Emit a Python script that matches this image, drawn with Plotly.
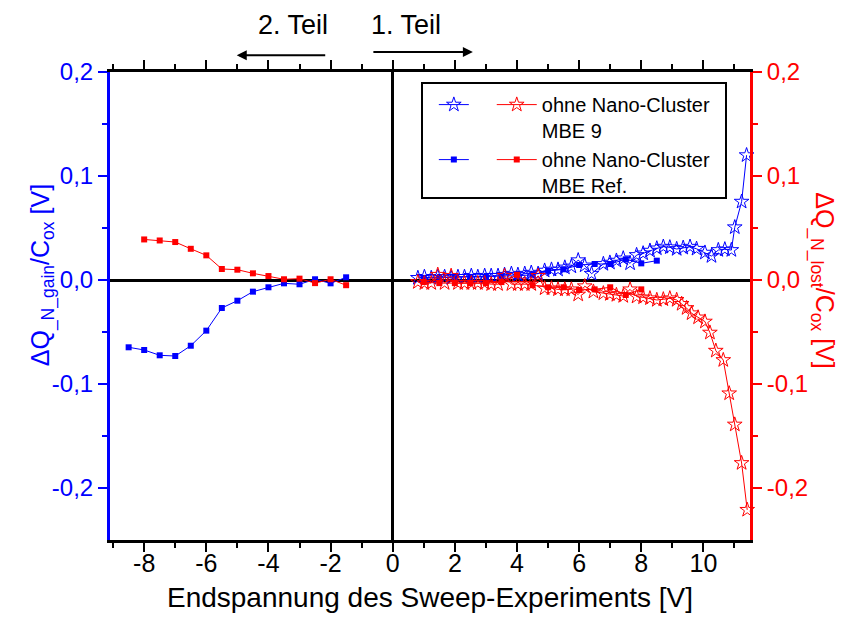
import plotly.graph_objects as go

# MBE 9 (stars) - gain (blue, left axis) and lost (red, right axis)
x_mbe9_gain = [0.81, 1.02, 1.24, 1.45, 1.67, 1.88, 2.10, 2.31, 2.53, 2.74, 2.96, 3.17, 3.39, 3.60,
               3.82, 4.03, 4.25, 4.46, 4.68, 4.89, 5.11, 5.32, 5.54, 5.75, 5.97, 6.18, 6.40, 6.78,
               6.99, 7.20, 7.42, 7.64, 7.85, 8.06, 8.28, 8.50, 8.71, 8.92, 9.14, 9.35, 9.57, 9.78,
               10.05, 10.26, 10.48, 10.69, 10.90, 11.01, 11.23, 11.39]
y_mbe9_gain = [0.002, 0.003, 0.002, 0.003, 0.003, 0.002, 0.003, 0.003, 0.004, 0.003, 0.004, 0.004,
               0.004, 0.005, 0.006, 0.005, 0.006, 0.007, 0.006, 0.009, 0.010, 0.010, 0.012, 0.013,
               0.019, 0.014, 0.006, 0.0154, 0.0167, 0.0186, 0.0208, 0.016, 0.024, 0.0256, 0.0282,
               0.0304, 0.032, 0.0314, 0.0298, 0.031, 0.032, 0.030, 0.0263, 0.023, 0.0288, 0.0295,
               0.0288, 0.0507, 0.0753, 0.120]

x_mbe9_lost = [0.81, 1.02, 1.24, 1.45, 1.67, 1.88, 2.10, 2.31, 2.53, 2.74, 2.96, 3.17, 3.39, 3.60,
               3.82, 4.03, 4.25, 4.46, 4.68, 4.89, 5.11, 5.32, 5.54, 5.75, 5.97, 6.18, 6.46, 6.78,
               6.99, 7.20, 7.42, 7.64, 7.85, 8.06, 8.28, 8.50, 8.71, 8.92, 9.14, 9.30, 9.46, 9.62,
               9.83, 10.05, 10.21, 10.40, 10.64, 10.83, 11.01, 11.23, 11.41]
y_mbe9_lost = [-0.002, -0.003, -0.003, 0.005, -0.003, 0.004, -0.003, -0.003, -0.003, -0.003,
               -0.003, -0.004, -0.004, 0.004, -0.004, -0.004, -0.004, -0.004, 0.004, -0.008,
               -0.008, -0.009, -0.009, -0.009, -0.014, -0.006, -0.0112, -0.0128, -0.0135, -0.0144,
               -0.0154, -0.009, -0.016, -0.0167, -0.0176, -0.0192, -0.0186, -0.0176, -0.0192,
               -0.023, -0.027, -0.032, -0.036, -0.040, -0.0506, -0.068, -0.077, -0.109, -0.139,
               -0.176, -0.221]

# MBE Ref. (squares) - 2. Teil (negative) and 1. Teil (positive)
x_ref_gain_neg = [-8.5, -8.0, -7.5, -7.0, -6.5, -6.0, -5.5, -5.0, -4.5, -4.0, -3.5, -3.0, -2.5, -2.0, -1.5]
y_ref_gain_neg = [-0.0647, -0.0673, -0.0724, -0.0731, -0.0632, -0.0487, -0.0269, -0.0199, -0.0112,
                  -0.007, -0.0032, -0.0041, 0.0007, -0.0032, 0.0026]
x_ref_lost_neg = [-8.0, -7.5, -7.0, -6.5, -6.0, -5.5, -5.0, -4.5, -4.0, -3.5, -3.0, -2.5, -2.0, -1.5]
y_ref_lost_neg = [0.039, 0.038, 0.0365, 0.030, 0.0237, 0.0106, 0.0099, 0.0064, 0.0038, 0.0007,
                  0.0013, -0.003, 0.0007, -0.005]

x_ref_gain_pos = [1.0, 1.5, 2.0, 2.5, 3.0, 3.5, 4.0, 4.5, 5.0, 5.5, 6.0, 6.5, 7.0, 7.5, 8.0, 8.5]
y_ref_gain_pos = [0.002, 0.002, 0.003, 0.003, 0.003, 0.004, 0.004, 0.005, 0.0087, 0.0103, 0.0144,
                  0.0154, 0.0154, 0.0199, 0.016, 0.0186]
x_ref_lost_pos = [1.0, 1.5, 2.0, 2.5, 3.0, 3.5, 4.0, 4.5, 5.0, 5.5, 6.0, 6.5, 7.0, 7.5, 8.0]
y_ref_lost_pos = [-0.002, -0.003, -0.003, -0.003, -0.003, -0.002, 0.005, -0.005, -0.007, -0.007,
                  -0.0096, -0.009, -0.007, -0.0144, -0.009]

x_ticks = [-8, -6, -4, -2, 0, 2, 4, 6, 8, 10]
x_ticktext = ["-8", "-6", "-4", "-2", "0", "2", "4", "6", "8", "10"]
y_ticks = [0.2, 0.1, 0.0, -0.1, -0.2]
y_ticktext = ["0,2", "0,1", "0,0", "-0,1", "-0,2"]

BLUE = "#0000FF"
RED = "#FF0000"
FONT = "Liberation Sans, Arial, sans-serif"

fig = go.Figure()

star = dict(symbol="star-open", size=11, line=dict(width=1))
square = dict(symbol="square", size=6)

# blue traces go into legend 1 (symbol only), red ones into legend 2 (with text)
fig.add_trace(go.Scatter(x=x_mbe9_gain, y=y_mbe9_gain, mode="lines+markers", name="\u00a0<br>\u00a0",
                         line=dict(color=BLUE, width=1), marker=dict(color=BLUE, **star),
                         legend="legend", cliponaxis=False))
fig.add_trace(go.Scatter(x=x_ref_gain_neg, y=y_ref_gain_neg, mode="lines+markers", name="\u00a0<br>\u00a0",
                         line=dict(color=BLUE, width=1), marker=dict(color=BLUE, **square),
                         legend="legend", legendgroup="refg"))
fig.add_trace(go.Scatter(x=x_ref_gain_pos, y=y_ref_gain_pos, mode="lines+markers",
                         line=dict(color=BLUE, width=1), marker=dict(color=BLUE, **square),
                         showlegend=False, legendgroup="refg"))

fig.add_trace(go.Scatter(x=x_mbe9_lost, y=y_mbe9_lost, mode="lines+markers", yaxis="y2",
                         name="ohne Nano-Cluster<br>MBE 9",
                         line=dict(color=RED, width=1), marker=dict(color=RED, **star),
                         legend="legend2", cliponaxis=False))
fig.add_trace(go.Scatter(x=x_ref_lost_neg, y=y_ref_lost_neg, mode="lines+markers", yaxis="y2",
                         name="ohne Nano-Cluster<br>MBE Ref.",
                         line=dict(color=RED, width=1), marker=dict(color=RED, **square),
                         legend="legend2", legendgroup="refl"))
fig.add_trace(go.Scatter(x=x_ref_lost_pos, y=y_ref_lost_pos, mode="lines+markers", yaxis="y2",
                         line=dict(color=RED, width=1), marker=dict(color=RED, **square),
                         showlegend=False, legendgroup="refl"))

yrange = [-0.25, 0.2]
yminor = [0.15, 0.05, -0.05, -0.15]

# page body has an 8px margin, so the left/top margins are 8px smaller
fig.update_layout(
    width=844, height=630,
    margin=dict(l=102, r=102, t=64, b=98),
    paper_bgcolor="white", plot_bgcolor="white",
    font=dict(family=FONT, size=24, color="black"),
    xaxis=dict(range=[-9.1, 11.5], tickvals=x_ticks, ticktext=x_ticktext, ticks="outside",
               ticklen=9, tickwidth=2, tickcolor="black", showline=True, linecolor="black",
               linewidth=3, mirror="ticks", showgrid=False, zeroline=True, zerolinecolor="black",
               zerolinewidth=3, ticklabelstandoff=-10,
               minor=dict(tickvals=[-9, -7, -5, -3, -1, 1, 3, 5, 7, 9, 11], ticks="outside",
                          ticklen=5, tickwidth=2, tickcolor="black"),
               tickfont=dict(size=25),
               title=dict(text="Endspannung des Sweep-Experiments [V]", font=dict(size=28),
                          standoff=12)),
    yaxis=dict(range=yrange, tickvals=y_ticks, ticktext=y_ticktext, ticks="outside", ticklen=9,
               tickwidth=2, tickcolor=BLUE, showline=True, linecolor=BLUE, linewidth=3,
               showgrid=False, zeroline=True, zerolinecolor="black", zerolinewidth=3,
               tickfont=dict(size=24, color=BLUE),
               minor=dict(tickvals=yminor, ticks="outside", ticklen=5, tickwidth=2, tickcolor=BLUE)),
    yaxis2=dict(range=yrange, overlaying="y", side="right", tickvals=y_ticks, ticktext=y_ticktext,
                ticks="outside", ticklen=9, tickwidth=2, tickcolor=RED, showline=True,
                linecolor=RED, linewidth=3, showgrid=False, zeroline=False,
                tickfont=dict(size=24, color=RED),
                minor=dict(tickvals=yminor, ticks="outside", ticklen=5, tickwidth=2, tickcolor=RED)),
    legend=dict(x=0.506, y=0.972, xanchor="left", yanchor="top", bgcolor="rgba(0,0,0,0)",
                font=dict(size=20), valign="top", tracegroupgap=0, itemwidth=30),
    legend2=dict(x=0.5965, y=0.972, xanchor="left", yanchor="top", bgcolor="rgba(0,0,0,0)",
                 font=dict(size=20), valign="top", tracegroupgap=0, itemwidth=40),
)

# legend frame
fig.add_shape(type="rect", xref="paper", yref="paper", x0=0.4875, x1=0.9625, y0=0.7308, y1=0.9765,
              line=dict(color="black", width=2))

# axis titles
fig.add_annotation(text="ΔQ<sub>_N_gain</sub>/C<sub>ox</sub> [V]", xref="paper", yref="paper",
                   x=-0.106, y=0.566, xanchor="center", yanchor="middle", textangle=-90,
                   showarrow=False, font=dict(size=25, color=BLUE))
fig.add_annotation(text="ΔQ<sub>_N_lost</sub>/C<sub>ox</sub> [V]", xref="paper", yref="paper",
                   x=1.114, y=0.553, xanchor="center", yanchor="middle", textangle=90,
                   showarrow=False, font=dict(size=25, color=RED))

# "2. Teil" / "1. Teil" with arrows
fig.add_annotation(text="2. Teil", xref="paper", yref="paper", x=0.286, y=1.10, xanchor="center",
                   yanchor="middle", showarrow=False, font=dict(size=27))
fig.add_annotation(text="1. Teil", xref="paper", yref="paper", x=0.4625, y=1.10, xanchor="center",
                   yanchor="middle", showarrow=False, font=dict(size=27))
fig.add_annotation(text="", xref="paper", yref="paper", x=0.198, y=1.036, ax=90, ay=0,
                   xanchor="center", yanchor="middle",
                   showarrow=True, arrowhead=2, arrowsize=1, arrowwidth=2, arrowcolor="black")
fig.add_annotation(text="", xref="paper", yref="paper", x=0.567, y=1.043, ax=-101, ay=0,
                   xanchor="center", yanchor="middle",
                   showarrow=True, arrowhead=2, arrowsize=1, arrowwidth=2, arrowcolor="black")

fig.write_html("out.html")
